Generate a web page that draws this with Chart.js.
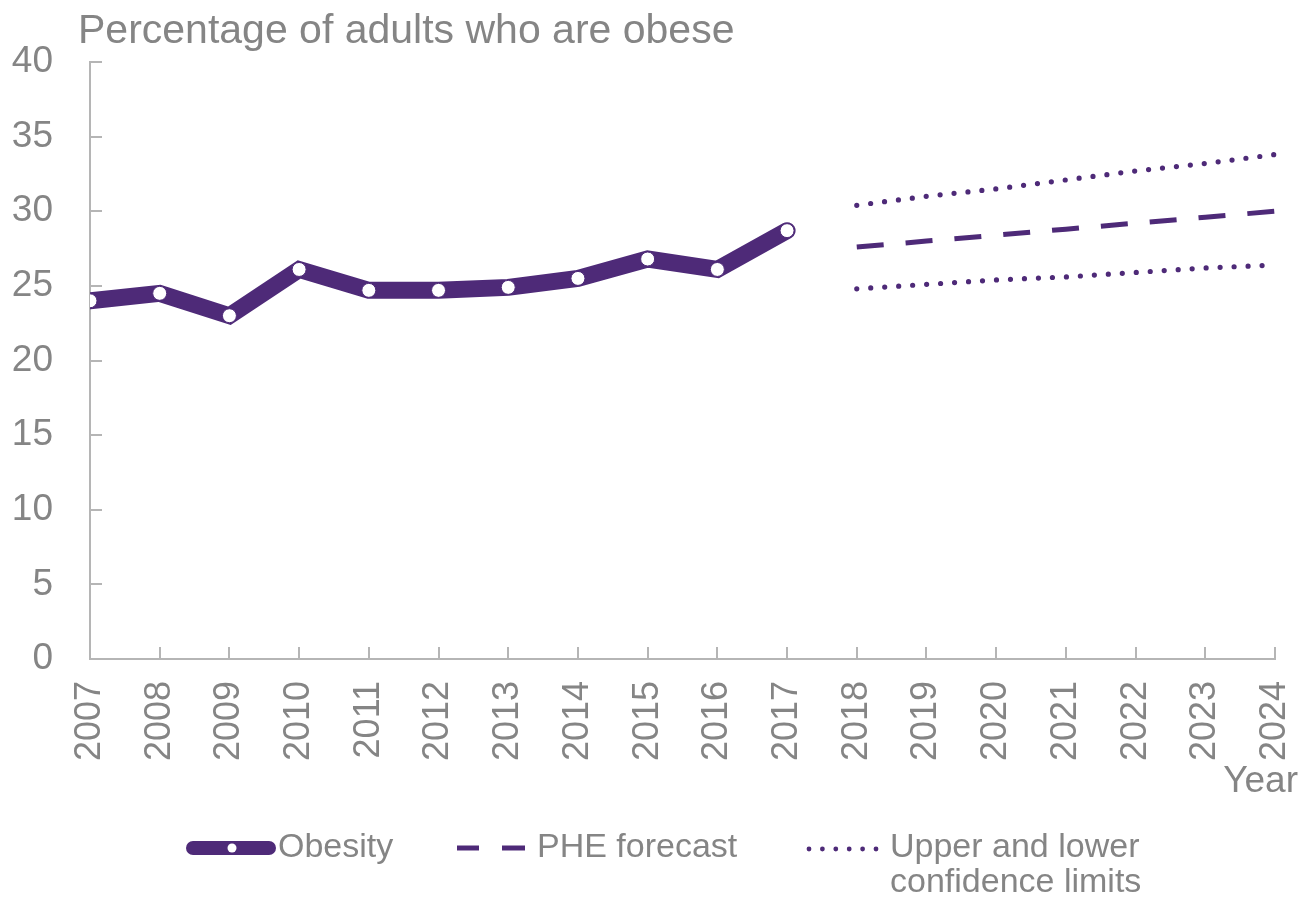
<!DOCTYPE html>
<html>
<head>
<meta charset="utf-8">
<script src="https://cdn.jsdelivr.net/npm/chart.js@4.4.1/dist/chart.umd.min.js"></script>
<style>
  html, body { margin: 0; padding: 0; background: #ffffff; }
  #wrap { width: 1306px; height: 900px; position: relative; }
</style>
</head>
<body>
<div id="wrap"><canvas id="c" width="1306" height="900"></canvas></div>
<script>
// ---- data ----
const years = ['2007','2008','2009','2010','2011','2012','2013','2014','2015','2016','2017','2018','2019','2020','2021','2022','2023','2024'];
const obesityYears = ['2007','2008','2009','2010','2011','2012','2013','2014','2015','2016','2017'];
const obesity = [24.0, 24.5, 23.0, 26.1, 24.7, 24.7, 24.9, 25.5, 26.8, 26.1, 28.7];
const forecastYears = ['2018','2019','2020','2021','2022','2023','2024'];
const forecast = [27.6, 28.0, 28.4, 28.8, 29.2, 29.6, 30.0];
const upperLimit = [30.4, 31.0, 31.5, 32.1, 32.7, 33.2, 33.8];
const lowerLimit = [24.8, 25.1, 25.4, 25.6, 25.9, 26.2, 26.4];
const yTicks = [0, 5, 10, 15, 20, 25, 30, 35, 40];
const titleText = 'Percentage of adults who are obese';
const xAxisTitle = 'Year';
const legendLabels = ['Obesity', 'PHE forecast', ['Upper and lower', 'confidence limits']];

// ---- styling ----
const PURPLE = '#4e2a78';
const GREY_TEXT = '#858585';
const AXIS = '#b5b5b5';
const FONT = "'Liberation Sans', Arial, sans-serif";

function alignTo(keys, vals) {
  return years.map(y => { const i = keys.indexOf(y); return i >= 0 ? vals[i] : null; });
}

const decorations = {
  id: 'decorations',
  beforeDatasetsDraw(chart) {
    const ctx = chart.ctx;
    const xs = chart.scales.x, ys = chart.scales.y;
    ctx.save();
    ctx.strokeStyle = AXIS;
    ctx.lineWidth = 2;
    yTicks.forEach(v => {
      const py = Math.round(ys.getPixelForValue(v));
      ctx.beginPath(); ctx.moveTo(xs.left, py); ctx.lineTo(xs.left + 12, py); ctx.stroke();
    });
    years.forEach((y, i) => {
      const px = Math.round(xs.getPixelForValue(i));
      ctx.beginPath(); ctx.moveTo(px, ys.bottom); ctx.lineTo(px, ys.bottom - 12); ctx.stroke();
    });
    ctx.restore();
  },
  afterDraw(chart) {
    const ctx = chart.ctx;
    ctx.save();
    ctx.fillStyle = GREY_TEXT;
    ctx.font = `41px ${FONT}`;
    ctx.textAlign = 'left';
    ctx.textBaseline = 'alphabetic';
    ctx.fillText(titleText, 78, 43);
    ctx.font = `37px ${FONT}`;
    ctx.textAlign = 'right';
    ctx.fillText(xAxisTitle, 1298, 792);

    const ly = 848;
    ctx.strokeStyle = PURPLE;
    ctx.lineCap = 'round';
    ctx.lineWidth = 14;
    ctx.beginPath(); ctx.moveTo(193, ly); ctx.lineTo(269, ly); ctx.stroke();
    ctx.fillStyle = '#ffffff';
    ctx.beginPath(); ctx.arc(232, ly, 4.5, 0, Math.PI * 2); ctx.fill();
    ctx.lineCap = 'butt';
    ctx.lineWidth = 5;
    ctx.beginPath(); ctx.moveTo(457, ly); ctx.lineTo(479, ly); ctx.stroke();
    ctx.beginPath(); ctx.moveTo(502, ly); ctx.lineTo(525, ly); ctx.stroke();
    ctx.fillStyle = PURPLE;
    for (let k = 0; k < 6; k++) {
      ctx.beginPath(); ctx.arc(809 + k * 13.4, ly + 1, 2.4, 0, Math.PI * 2); ctx.fill();
    }
    ctx.fillStyle = GREY_TEXT;
    ctx.font = `34px ${FONT}`;
    ctx.textAlign = 'left';
    ctx.textBaseline = 'middle';
    ctx.fillText(legendLabels[0], 278, ly);
    ctx.fillText(legendLabels[1], 537, ly);
    ctx.fillText(legendLabels[2][0], 890, ly);
    ctx.fillText(legendLabels[2][1], 890, ly + 35);
    ctx.restore();
  }
};

new Chart(document.getElementById('c'), {
  type: 'line',
  data: {
    labels: years,
    datasets: [
      {
        label: 'Obesity',
        data: alignTo(obesityYears, obesity),
        borderColor: PURPLE,
        backgroundColor: PURPLE,
        borderWidth: 17,
        borderJoinStyle: 'miter',
        borderCapStyle: 'round',
        pointRadius: 7,
        pointBackgroundColor: '#ffffff',
        pointBorderColor: PURPLE,
        pointBorderWidth: 1,
        tension: 0,
        clip: 0,
        order: 0
      },
      {
        label: 'PHE forecast',
        data: alignTo(forecastYears, forecast),
        borderColor: PURPLE,
        borderWidth: 5,
        borderDash: [27, 22],
        pointRadius: 0,
        tension: 0,
        order: 1
      },
      {
        label: 'Upper confidence limit',
        data: alignTo(forecastYears, upperLimit),
        borderColor: PURPLE,
        borderWidth: 5.2,
        borderDash: [0, 14],
        borderCapStyle: 'round',
        pointRadius: 0,
        tension: 0,
        order: 2
      },
      {
        label: 'Lower confidence limit',
        data: alignTo(forecastYears, lowerLimit),
        borderColor: PURPLE,
        borderWidth: 5.2,
        borderDash: [0, 14],
        borderCapStyle: 'round',
        pointRadius: 0,
        tension: 0,
        order: 3
      }
    ]
  },
  options: {
    responsive: false,
    animation: false,
    spanGaps: false,
    layout: { padding: { top: 62, right: 31, left: 0, bottom: 0 } },
    plugins: {
      legend: { display: false },
      title: { display: false },
      tooltip: { enabled: false }
    },
    scales: {
      x: {
        type: 'category',
        offset: false,
        grid: { display: false, drawTicks: false },
        border: { display: true, color: AXIS, width: 2 },
        ticks: {
          color: GREY_TEXT,
          font: { family: FONT, size: 36 },
          minRotation: 90,
          maxRotation: 90,
          autoSkip: false,
          padding: 22
        },
        afterFit(scale) { scale.height = 241; scale.paddingRight = 0; scale.paddingLeft = 0; }
      },
      y: {
        min: 0,
        max: 40,
        grid: { display: false, drawTicks: false },
        border: { display: true, color: AXIS, width: 2 },
        ticks: {
          stepSize: 5,
          color: GREY_TEXT,
          font: { family: FONT, size: 37 },
          padding: 37
        },
        afterFit(scale) { scale.width = 90; scale.paddingTop = 0; scale.paddingBottom = 0; }
      }
    }
  },
  plugins: [decorations]
});
</script>
</body>
</html>
